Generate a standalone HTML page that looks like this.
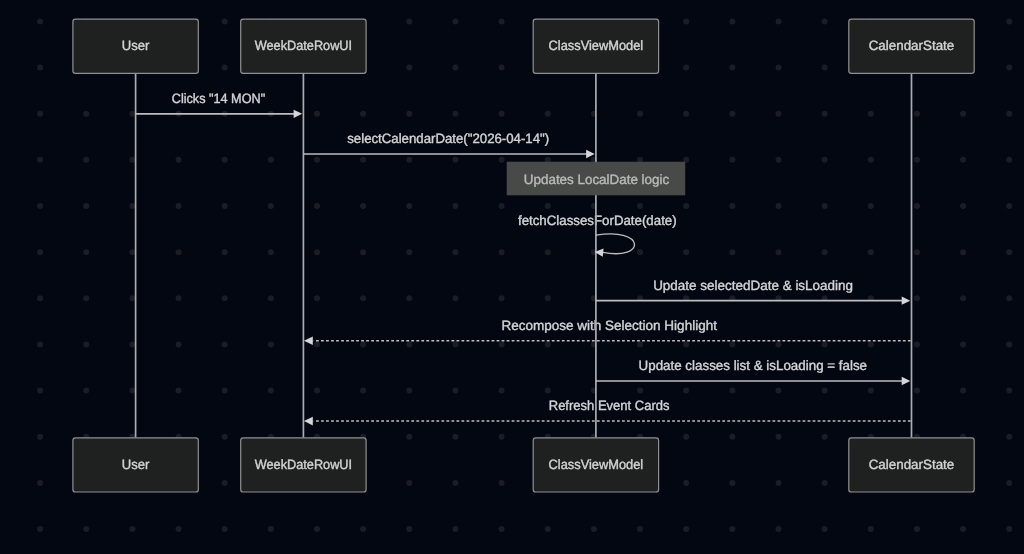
<!DOCTYPE html><html><head><meta charset="utf-8"><style>html,body{margin:0;padding:0;background:#030712;width:1024px;height:554px;overflow:hidden}svg{display:block;will-change:transform}text{text-rendering:geometricPrecision;font-family:"Liberation Sans", sans-serif;}</style></head><body>
<svg width="1024" height="554" viewBox="0 0 1024 554">
<rect x="0" y="0" width="1024" height="554" fill="#030712"/>
<g fill="#1b1d26">
<circle cx="40.10" cy="21.40" r="3"/>
<circle cx="40.10" cy="67.55" r="3"/>
<circle cx="40.10" cy="113.70" r="3"/>
<circle cx="40.10" cy="159.85" r="3"/>
<circle cx="40.10" cy="206.00" r="3"/>
<circle cx="40.10" cy="252.15" r="3"/>
<circle cx="40.10" cy="298.30" r="3"/>
<circle cx="40.10" cy="344.45" r="3"/>
<circle cx="40.10" cy="390.60" r="3"/>
<circle cx="40.10" cy="436.75" r="3"/>
<circle cx="40.10" cy="482.90" r="3"/>
<circle cx="40.10" cy="529.05" r="3"/>
<circle cx="86.25" cy="21.40" r="3"/>
<circle cx="86.25" cy="67.55" r="3"/>
<circle cx="86.25" cy="113.70" r="3"/>
<circle cx="86.25" cy="159.85" r="3"/>
<circle cx="86.25" cy="206.00" r="3"/>
<circle cx="86.25" cy="252.15" r="3"/>
<circle cx="86.25" cy="298.30" r="3"/>
<circle cx="86.25" cy="344.45" r="3"/>
<circle cx="86.25" cy="390.60" r="3"/>
<circle cx="86.25" cy="436.75" r="3"/>
<circle cx="86.25" cy="482.90" r="3"/>
<circle cx="86.25" cy="529.05" r="3"/>
<circle cx="132.40" cy="21.40" r="3"/>
<circle cx="132.40" cy="67.55" r="3"/>
<circle cx="132.40" cy="113.70" r="3"/>
<circle cx="132.40" cy="159.85" r="3"/>
<circle cx="132.40" cy="206.00" r="3"/>
<circle cx="132.40" cy="252.15" r="3"/>
<circle cx="132.40" cy="298.30" r="3"/>
<circle cx="132.40" cy="344.45" r="3"/>
<circle cx="132.40" cy="390.60" r="3"/>
<circle cx="132.40" cy="436.75" r="3"/>
<circle cx="132.40" cy="482.90" r="3"/>
<circle cx="132.40" cy="529.05" r="3"/>
<circle cx="178.55" cy="21.40" r="3"/>
<circle cx="178.55" cy="67.55" r="3"/>
<circle cx="178.55" cy="113.70" r="3"/>
<circle cx="178.55" cy="159.85" r="3"/>
<circle cx="178.55" cy="206.00" r="3"/>
<circle cx="178.55" cy="252.15" r="3"/>
<circle cx="178.55" cy="298.30" r="3"/>
<circle cx="178.55" cy="344.45" r="3"/>
<circle cx="178.55" cy="390.60" r="3"/>
<circle cx="178.55" cy="436.75" r="3"/>
<circle cx="178.55" cy="482.90" r="3"/>
<circle cx="178.55" cy="529.05" r="3"/>
<circle cx="224.70" cy="21.40" r="3"/>
<circle cx="224.70" cy="67.55" r="3"/>
<circle cx="224.70" cy="113.70" r="3"/>
<circle cx="224.70" cy="159.85" r="3"/>
<circle cx="224.70" cy="206.00" r="3"/>
<circle cx="224.70" cy="252.15" r="3"/>
<circle cx="224.70" cy="298.30" r="3"/>
<circle cx="224.70" cy="344.45" r="3"/>
<circle cx="224.70" cy="390.60" r="3"/>
<circle cx="224.70" cy="436.75" r="3"/>
<circle cx="224.70" cy="482.90" r="3"/>
<circle cx="224.70" cy="529.05" r="3"/>
<circle cx="270.85" cy="21.40" r="3"/>
<circle cx="270.85" cy="67.55" r="3"/>
<circle cx="270.85" cy="113.70" r="3"/>
<circle cx="270.85" cy="159.85" r="3"/>
<circle cx="270.85" cy="206.00" r="3"/>
<circle cx="270.85" cy="252.15" r="3"/>
<circle cx="270.85" cy="298.30" r="3"/>
<circle cx="270.85" cy="344.45" r="3"/>
<circle cx="270.85" cy="390.60" r="3"/>
<circle cx="270.85" cy="436.75" r="3"/>
<circle cx="270.85" cy="482.90" r="3"/>
<circle cx="270.85" cy="529.05" r="3"/>
<circle cx="317.00" cy="21.40" r="3"/>
<circle cx="317.00" cy="67.55" r="3"/>
<circle cx="317.00" cy="113.70" r="3"/>
<circle cx="317.00" cy="159.85" r="3"/>
<circle cx="317.00" cy="206.00" r="3"/>
<circle cx="317.00" cy="252.15" r="3"/>
<circle cx="317.00" cy="298.30" r="3"/>
<circle cx="317.00" cy="344.45" r="3"/>
<circle cx="317.00" cy="390.60" r="3"/>
<circle cx="317.00" cy="436.75" r="3"/>
<circle cx="317.00" cy="482.90" r="3"/>
<circle cx="317.00" cy="529.05" r="3"/>
<circle cx="363.15" cy="21.40" r="3"/>
<circle cx="363.15" cy="67.55" r="3"/>
<circle cx="363.15" cy="113.70" r="3"/>
<circle cx="363.15" cy="159.85" r="3"/>
<circle cx="363.15" cy="206.00" r="3"/>
<circle cx="363.15" cy="252.15" r="3"/>
<circle cx="363.15" cy="298.30" r="3"/>
<circle cx="363.15" cy="344.45" r="3"/>
<circle cx="363.15" cy="390.60" r="3"/>
<circle cx="363.15" cy="436.75" r="3"/>
<circle cx="363.15" cy="482.90" r="3"/>
<circle cx="363.15" cy="529.05" r="3"/>
<circle cx="409.30" cy="21.40" r="3"/>
<circle cx="409.30" cy="67.55" r="3"/>
<circle cx="409.30" cy="113.70" r="3"/>
<circle cx="409.30" cy="159.85" r="3"/>
<circle cx="409.30" cy="206.00" r="3"/>
<circle cx="409.30" cy="252.15" r="3"/>
<circle cx="409.30" cy="298.30" r="3"/>
<circle cx="409.30" cy="344.45" r="3"/>
<circle cx="409.30" cy="390.60" r="3"/>
<circle cx="409.30" cy="436.75" r="3"/>
<circle cx="409.30" cy="482.90" r="3"/>
<circle cx="409.30" cy="529.05" r="3"/>
<circle cx="455.45" cy="21.40" r="3"/>
<circle cx="455.45" cy="67.55" r="3"/>
<circle cx="455.45" cy="113.70" r="3"/>
<circle cx="455.45" cy="159.85" r="3"/>
<circle cx="455.45" cy="206.00" r="3"/>
<circle cx="455.45" cy="252.15" r="3"/>
<circle cx="455.45" cy="298.30" r="3"/>
<circle cx="455.45" cy="344.45" r="3"/>
<circle cx="455.45" cy="390.60" r="3"/>
<circle cx="455.45" cy="436.75" r="3"/>
<circle cx="455.45" cy="482.90" r="3"/>
<circle cx="455.45" cy="529.05" r="3"/>
<circle cx="501.60" cy="21.40" r="3"/>
<circle cx="501.60" cy="67.55" r="3"/>
<circle cx="501.60" cy="113.70" r="3"/>
<circle cx="501.60" cy="159.85" r="3"/>
<circle cx="501.60" cy="206.00" r="3"/>
<circle cx="501.60" cy="252.15" r="3"/>
<circle cx="501.60" cy="298.30" r="3"/>
<circle cx="501.60" cy="344.45" r="3"/>
<circle cx="501.60" cy="390.60" r="3"/>
<circle cx="501.60" cy="436.75" r="3"/>
<circle cx="501.60" cy="482.90" r="3"/>
<circle cx="501.60" cy="529.05" r="3"/>
<circle cx="547.75" cy="21.40" r="3"/>
<circle cx="547.75" cy="67.55" r="3"/>
<circle cx="547.75" cy="113.70" r="3"/>
<circle cx="547.75" cy="159.85" r="3"/>
<circle cx="547.75" cy="206.00" r="3"/>
<circle cx="547.75" cy="252.15" r="3"/>
<circle cx="547.75" cy="298.30" r="3"/>
<circle cx="547.75" cy="344.45" r="3"/>
<circle cx="547.75" cy="390.60" r="3"/>
<circle cx="547.75" cy="436.75" r="3"/>
<circle cx="547.75" cy="482.90" r="3"/>
<circle cx="547.75" cy="529.05" r="3"/>
<circle cx="593.90" cy="21.40" r="3"/>
<circle cx="593.90" cy="67.55" r="3"/>
<circle cx="593.90" cy="113.70" r="3"/>
<circle cx="593.90" cy="159.85" r="3"/>
<circle cx="593.90" cy="206.00" r="3"/>
<circle cx="593.90" cy="252.15" r="3"/>
<circle cx="593.90" cy="298.30" r="3"/>
<circle cx="593.90" cy="344.45" r="3"/>
<circle cx="593.90" cy="390.60" r="3"/>
<circle cx="593.90" cy="436.75" r="3"/>
<circle cx="593.90" cy="482.90" r="3"/>
<circle cx="593.90" cy="529.05" r="3"/>
<circle cx="640.05" cy="21.40" r="3"/>
<circle cx="640.05" cy="67.55" r="3"/>
<circle cx="640.05" cy="113.70" r="3"/>
<circle cx="640.05" cy="159.85" r="3"/>
<circle cx="640.05" cy="206.00" r="3"/>
<circle cx="640.05" cy="252.15" r="3"/>
<circle cx="640.05" cy="298.30" r="3"/>
<circle cx="640.05" cy="344.45" r="3"/>
<circle cx="640.05" cy="390.60" r="3"/>
<circle cx="640.05" cy="436.75" r="3"/>
<circle cx="640.05" cy="482.90" r="3"/>
<circle cx="640.05" cy="529.05" r="3"/>
<circle cx="686.20" cy="21.40" r="3"/>
<circle cx="686.20" cy="67.55" r="3"/>
<circle cx="686.20" cy="113.70" r="3"/>
<circle cx="686.20" cy="159.85" r="3"/>
<circle cx="686.20" cy="206.00" r="3"/>
<circle cx="686.20" cy="252.15" r="3"/>
<circle cx="686.20" cy="298.30" r="3"/>
<circle cx="686.20" cy="344.45" r="3"/>
<circle cx="686.20" cy="390.60" r="3"/>
<circle cx="686.20" cy="436.75" r="3"/>
<circle cx="686.20" cy="482.90" r="3"/>
<circle cx="686.20" cy="529.05" r="3"/>
<circle cx="732.35" cy="21.40" r="3"/>
<circle cx="732.35" cy="67.55" r="3"/>
<circle cx="732.35" cy="113.70" r="3"/>
<circle cx="732.35" cy="159.85" r="3"/>
<circle cx="732.35" cy="206.00" r="3"/>
<circle cx="732.35" cy="252.15" r="3"/>
<circle cx="732.35" cy="298.30" r="3"/>
<circle cx="732.35" cy="344.45" r="3"/>
<circle cx="732.35" cy="390.60" r="3"/>
<circle cx="732.35" cy="436.75" r="3"/>
<circle cx="732.35" cy="482.90" r="3"/>
<circle cx="732.35" cy="529.05" r="3"/>
<circle cx="778.50" cy="21.40" r="3"/>
<circle cx="778.50" cy="67.55" r="3"/>
<circle cx="778.50" cy="113.70" r="3"/>
<circle cx="778.50" cy="159.85" r="3"/>
<circle cx="778.50" cy="206.00" r="3"/>
<circle cx="778.50" cy="252.15" r="3"/>
<circle cx="778.50" cy="298.30" r="3"/>
<circle cx="778.50" cy="344.45" r="3"/>
<circle cx="778.50" cy="390.60" r="3"/>
<circle cx="778.50" cy="436.75" r="3"/>
<circle cx="778.50" cy="482.90" r="3"/>
<circle cx="778.50" cy="529.05" r="3"/>
<circle cx="824.65" cy="21.40" r="3"/>
<circle cx="824.65" cy="67.55" r="3"/>
<circle cx="824.65" cy="113.70" r="3"/>
<circle cx="824.65" cy="159.85" r="3"/>
<circle cx="824.65" cy="206.00" r="3"/>
<circle cx="824.65" cy="252.15" r="3"/>
<circle cx="824.65" cy="298.30" r="3"/>
<circle cx="824.65" cy="344.45" r="3"/>
<circle cx="824.65" cy="390.60" r="3"/>
<circle cx="824.65" cy="436.75" r="3"/>
<circle cx="824.65" cy="482.90" r="3"/>
<circle cx="824.65" cy="529.05" r="3"/>
<circle cx="870.80" cy="21.40" r="3"/>
<circle cx="870.80" cy="67.55" r="3"/>
<circle cx="870.80" cy="113.70" r="3"/>
<circle cx="870.80" cy="159.85" r="3"/>
<circle cx="870.80" cy="206.00" r="3"/>
<circle cx="870.80" cy="252.15" r="3"/>
<circle cx="870.80" cy="298.30" r="3"/>
<circle cx="870.80" cy="344.45" r="3"/>
<circle cx="870.80" cy="390.60" r="3"/>
<circle cx="870.80" cy="436.75" r="3"/>
<circle cx="870.80" cy="482.90" r="3"/>
<circle cx="870.80" cy="529.05" r="3"/>
<circle cx="916.95" cy="21.40" r="3"/>
<circle cx="916.95" cy="67.55" r="3"/>
<circle cx="916.95" cy="113.70" r="3"/>
<circle cx="916.95" cy="159.85" r="3"/>
<circle cx="916.95" cy="206.00" r="3"/>
<circle cx="916.95" cy="252.15" r="3"/>
<circle cx="916.95" cy="298.30" r="3"/>
<circle cx="916.95" cy="344.45" r="3"/>
<circle cx="916.95" cy="390.60" r="3"/>
<circle cx="916.95" cy="436.75" r="3"/>
<circle cx="916.95" cy="482.90" r="3"/>
<circle cx="916.95" cy="529.05" r="3"/>
<circle cx="963.10" cy="21.40" r="3"/>
<circle cx="963.10" cy="67.55" r="3"/>
<circle cx="963.10" cy="113.70" r="3"/>
<circle cx="963.10" cy="159.85" r="3"/>
<circle cx="963.10" cy="206.00" r="3"/>
<circle cx="963.10" cy="252.15" r="3"/>
<circle cx="963.10" cy="298.30" r="3"/>
<circle cx="963.10" cy="344.45" r="3"/>
<circle cx="963.10" cy="390.60" r="3"/>
<circle cx="963.10" cy="436.75" r="3"/>
<circle cx="963.10" cy="482.90" r="3"/>
<circle cx="963.10" cy="529.05" r="3"/>
<circle cx="1009.25" cy="21.40" r="3"/>
<circle cx="1009.25" cy="67.55" r="3"/>
<circle cx="1009.25" cy="113.70" r="3"/>
<circle cx="1009.25" cy="159.85" r="3"/>
<circle cx="1009.25" cy="206.00" r="3"/>
<circle cx="1009.25" cy="252.15" r="3"/>
<circle cx="1009.25" cy="298.30" r="3"/>
<circle cx="1009.25" cy="344.45" r="3"/>
<circle cx="1009.25" cy="390.60" r="3"/>
<circle cx="1009.25" cy="436.75" r="3"/>
<circle cx="1009.25" cy="482.90" r="3"/>
<circle cx="1009.25" cy="529.05" r="3"/>
</g>
<text x="218.45" y="103.10" text-anchor="middle" font-size="13.50" fill="#d3d3d3" stroke="#d3d3d3" stroke-width="0.4" textLength="93.40" lengthAdjust="spacingAndGlyphs">Clicks &quot;14 MON&quot;</text>
<text x="448.20" y="143.30" text-anchor="middle" font-size="13.50" fill="#d3d3d3" stroke="#d3d3d3" stroke-width="0.4" textLength="201.90" lengthAdjust="spacingAndGlyphs">selectCalendarDate(&quot;2026-04-14&quot;)</text>
<text x="597.30" y="224.50" text-anchor="middle" font-size="13.50" fill="#d3d3d3" stroke="#d3d3d3" stroke-width="0.4" textLength="158.70" lengthAdjust="spacingAndGlyphs">fetchClassesForDate(date)</text>
<text x="753.10" y="290.10" text-anchor="middle" font-size="13.50" fill="#d3d3d3" stroke="#d3d3d3" stroke-width="0.4" textLength="199.90" lengthAdjust="spacingAndGlyphs">Update selectedDate &amp; isLoading</text>
<text x="609.20" y="329.80" text-anchor="middle" font-size="13.50" fill="#d3d3d3" stroke="#d3d3d3" stroke-width="0.4" textLength="215.50" lengthAdjust="spacingAndGlyphs">Recompose with Selection Highlight</text>
<text x="752.80" y="370.20" text-anchor="middle" font-size="13.50" fill="#d3d3d3" stroke="#d3d3d3" stroke-width="0.4" textLength="228.50" lengthAdjust="spacingAndGlyphs">Update classes list &amp; isLoading = false</text>
<text x="609.12" y="409.90" text-anchor="middle" font-size="13.50" fill="#d3d3d3" stroke="#d3d3d3" stroke-width="0.4" textLength="120.75" lengthAdjust="spacingAndGlyphs">Refresh Event Cards</text>
<line x1="135.60" y1="73.30" x2="135.60" y2="437.80" stroke="#acacac" stroke-width="1.7"/>
<line x1="303.40" y1="73.30" x2="303.40" y2="437.80" stroke="#acacac" stroke-width="1.7"/>
<line x1="595.90" y1="73.30" x2="595.90" y2="437.80" stroke="#acacac" stroke-width="1.7"/>
<line x1="911.50" y1="73.30" x2="911.50" y2="437.80" stroke="#acacac" stroke-width="1.7"/>
<line x1="135.60" y1="113.85" x2="295.20" y2="113.85" stroke="#bdbdbd" stroke-width="1.6"/>
<path d="M302.20 113.85 L293.60 109.65 L293.60 118.05 Z" fill="#d6d6d6"/>
<line x1="303.40" y1="153.95" x2="587.70" y2="153.95" stroke="#bdbdbd" stroke-width="1.6"/>
<path d="M594.70 153.95 L586.10 149.75 L586.10 158.15 Z" fill="#d6d6d6"/>
<path d="M595.90 235.20 C646.06 226.84 646.06 260.78 602.90 252.40" fill="none" stroke="#bdbdbd" stroke-width="1.35"/>
<path d="M594.60 251.90 L603.52 248.43 L602.82 256.80 Z" fill="#d6d6d6"/>
<line x1="595.90" y1="300.65" x2="903.30" y2="300.65" stroke="#bdbdbd" stroke-width="1.6"/>
<path d="M910.30 300.65 L901.70 296.45 L901.70 304.85 Z" fill="#d6d6d6"/>
<line x1="911.50" y1="340.80" x2="313.50" y2="340.80" stroke="#bdbdbd" stroke-width="1.5" stroke-dasharray="2.8 2.216" stroke-dashoffset="-0.8"/>
<path d="M304.00 340.80 L312.80 336.50 L312.80 345.10 Z" fill="#d6d6d6"/>
<line x1="595.90" y1="380.95" x2="903.30" y2="380.95" stroke="#bdbdbd" stroke-width="1.6"/>
<path d="M910.30 380.95 L901.70 376.75 L901.70 385.15 Z" fill="#d6d6d6"/>
<line x1="911.50" y1="421.10" x2="313.50" y2="421.10" stroke="#bdbdbd" stroke-width="1.5" stroke-dasharray="2.8 2.216" stroke-dashoffset="-0.8"/>
<path d="M304.00 421.10 L312.80 416.80 L312.80 425.40 Z" fill="#d6d6d6"/>
<rect x="507.15" y="162.15" width="177.65" height="32.75" fill="#484a48" stroke="#4f514f" stroke-width="0.8"/>
<text x="596.50" y="184.00" text-anchor="middle" font-size="13.50" fill="#b9b9b9" stroke="#b9b9b9" stroke-width="0.4" textLength="145.30" lengthAdjust="spacingAndGlyphs">Updates LocalDate logic</text>
<rect x="72.90" y="19.10" width="125.40" height="54.20" rx="2.6" ry="2.6" fill="#1f2020" stroke="#909090" stroke-width="1.2"/>
<text x="135.60" y="50.40" text-anchor="middle" font-size="13.50" fill="#d3d3d3" stroke="#d3d3d3" stroke-width="0.4" textLength="27.60" lengthAdjust="spacingAndGlyphs">User</text>
<rect x="72.90" y="437.80" width="125.40" height="54.20" rx="2.6" ry="2.6" fill="#1f2020" stroke="#909090" stroke-width="1.2"/>
<text x="135.60" y="469.10" text-anchor="middle" font-size="13.50" fill="#d3d3d3" stroke="#d3d3d3" stroke-width="0.4" textLength="27.60" lengthAdjust="spacingAndGlyphs">User</text>
<rect x="240.70" y="19.10" width="125.40" height="54.20" rx="2.6" ry="2.6" fill="#1f2020" stroke="#909090" stroke-width="1.2"/>
<text x="303.40" y="50.40" text-anchor="middle" font-size="13.50" fill="#d3d3d3" stroke="#d3d3d3" stroke-width="0.4" textLength="97.30" lengthAdjust="spacingAndGlyphs">WeekDateRowUI</text>
<rect x="240.70" y="437.80" width="125.40" height="54.20" rx="2.6" ry="2.6" fill="#1f2020" stroke="#909090" stroke-width="1.2"/>
<text x="303.40" y="469.10" text-anchor="middle" font-size="13.50" fill="#d3d3d3" stroke="#d3d3d3" stroke-width="0.4" textLength="97.30" lengthAdjust="spacingAndGlyphs">WeekDateRowUI</text>
<rect x="533.20" y="19.10" width="125.40" height="54.20" rx="2.6" ry="2.6" fill="#1f2020" stroke="#909090" stroke-width="1.2"/>
<text x="595.90" y="50.40" text-anchor="middle" font-size="13.50" fill="#d3d3d3" stroke="#d3d3d3" stroke-width="0.4" textLength="94.60" lengthAdjust="spacingAndGlyphs">ClassViewModel</text>
<rect x="533.20" y="437.80" width="125.40" height="54.20" rx="2.6" ry="2.6" fill="#1f2020" stroke="#909090" stroke-width="1.2"/>
<text x="595.90" y="469.10" text-anchor="middle" font-size="13.50" fill="#d3d3d3" stroke="#d3d3d3" stroke-width="0.4" textLength="94.60" lengthAdjust="spacingAndGlyphs">ClassViewModel</text>
<rect x="848.80" y="19.10" width="125.40" height="54.20" rx="2.6" ry="2.6" fill="#1f2020" stroke="#909090" stroke-width="1.2"/>
<text x="911.50" y="50.40" text-anchor="middle" font-size="13.50" fill="#d3d3d3" stroke="#d3d3d3" stroke-width="0.4" textLength="85.60" lengthAdjust="spacingAndGlyphs">CalendarState</text>
<rect x="848.80" y="437.80" width="125.40" height="54.20" rx="2.6" ry="2.6" fill="#1f2020" stroke="#909090" stroke-width="1.2"/>
<text x="911.50" y="469.10" text-anchor="middle" font-size="13.50" fill="#d3d3d3" stroke="#d3d3d3" stroke-width="0.4" textLength="85.60" lengthAdjust="spacingAndGlyphs">CalendarState</text>
</svg></body></html>
